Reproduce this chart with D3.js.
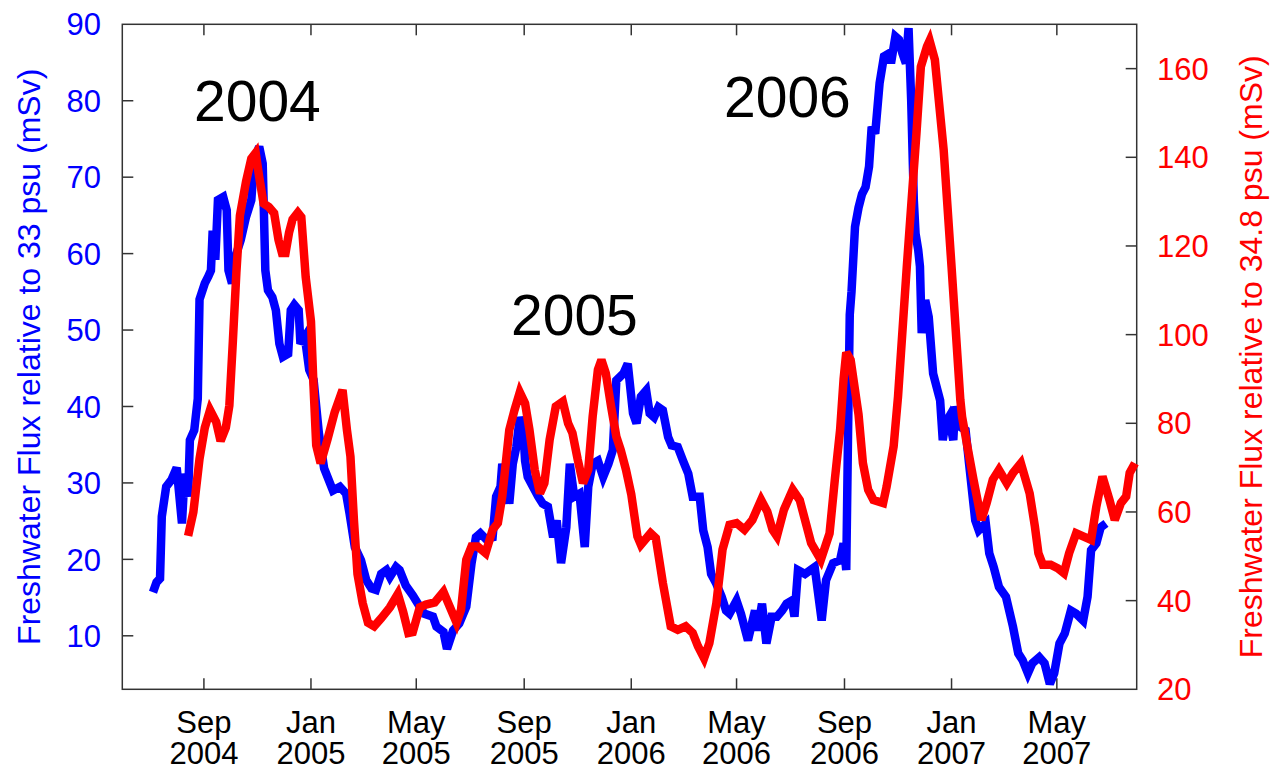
<html>
<head>
  <meta charset="utf-8">
  <script src="https://d3js.org/d3.v7.min.js"></script>
  <style>
    body { margin: 0; background: #fff; }
    text { font-family: "Liberation Sans", Arial, Helvetica, sans-serif; }
  </style>
</head>
<body>
<svg id="chart" width="1273" height="770"></svg>
<script>
// freshwater flux relative to 33 psu (left axis, blue)
var blueDates = ["2004-07-05","2004-07-09","2004-07-13","2004-07-15","2004-07-20","2004-07-26","2004-08-01","2004-08-07","2004-08-10","2004-08-14",
  "2004-08-16","2004-08-21","2004-08-25","2004-08-27","2004-09-02","2004-09-06","2004-09-09","2004-09-11","2004-09-14","2004-09-17",
  "2004-09-23","2004-09-27","2004-09-29","2004-10-03","2004-10-08","2004-10-13","2004-10-19","2004-10-25","2004-10-28","2004-11-03",
  "2004-11-07","2004-11-10","2004-11-13","2004-11-18","2004-11-22","2004-11-26","2004-11-30","2004-12-06","2004-12-09","2004-12-13",
  "2004-12-18","2004-12-20","2004-12-25","2004-12-30","2005-01-04","2005-01-10","2005-01-16","2005-01-26","2005-02-03","2005-02-10",
  "2005-02-14","2005-02-20","2005-02-27","2005-03-05","2005-03-11","2005-03-16","2005-03-22","2005-03-28","2005-04-01","2005-04-08",
  "2005-04-12","2005-04-19","2005-04-27","2005-05-05","2005-05-10","2005-05-20","2005-05-24","2005-06-01","2005-06-05","2005-06-12",
  "2005-06-19","2005-06-27","2005-07-03","2005-07-08","2005-07-13","2005-07-19","2005-07-27","2005-07-31","2005-08-05","2005-08-07",
  "2005-08-15","2005-08-19","2005-08-23","2005-08-27","2005-08-31","2005-09-02","2005-09-05","2005-09-11","2005-09-17","2005-09-22",
  "2005-09-28","2005-10-04","2005-10-08","2005-10-13","2005-10-19","2005-10-23","2005-10-28","2005-11-03","2005-11-09","2005-11-13",
  "2005-11-18","2005-11-24","2005-11-30","2005-12-06","2005-12-11","2005-12-15","2005-12-23","2005-12-28","2006-01-03","2006-01-07",
  "2006-01-12","2006-01-18","2006-01-22","2006-01-27","2006-02-01","2006-02-06","2006-02-12","2006-02-16","2006-02-23","2006-03-01",
  "2006-03-07","2006-03-12","2006-03-20","2006-03-24","2006-03-29","2006-04-02","2006-04-08","2006-04-14","2006-04-19","2006-04-23",
  "2006-05-01","2006-05-06","2006-05-14","2006-05-22","2006-05-25","2006-05-30","2006-06-04","2006-06-10","2006-06-16","2006-06-22",
  "2006-06-27","2006-07-03","2006-07-06","2006-07-10","2006-07-18","2006-07-29","2006-08-06","2006-08-11","2006-08-19","2006-08-27",
  "2006-08-31","2006-09-03","2006-09-05","2006-09-07","2006-09-09","2006-09-13","2006-09-17","2006-09-21","2006-09-25","2006-09-29",
  "2006-10-02","2006-10-06","2006-10-11","2006-10-16","2006-10-22","2006-10-24","2006-10-29","2006-11-02","2006-11-06","2006-11-10",
  "2006-11-13","2006-11-16","2006-11-19","2006-11-21","2006-11-24","2006-11-26","2006-11-28","2006-12-02","2006-12-06","2006-12-11",
  "2006-12-19","2006-12-22","2006-12-25","2006-12-29","2007-01-03","2007-01-05","2007-01-10","2007-01-17","2007-01-21","2007-01-28",
  "2007-02-01","2007-02-09","2007-02-13","2007-02-18","2007-02-24","2007-03-04","2007-03-12","2007-03-18","2007-03-23","2007-03-29",
  "2007-04-03","2007-04-11","2007-04-17","2007-04-23","2007-04-28","2007-05-04","2007-05-10","2007-05-17","2007-05-23","2007-05-31",
  "2007-06-05","2007-06-09","2007-06-15","2007-06-20","2007-06-26"];
var blueFlux = [15.7,17.0,17.5,25.6,29.5,30.4,32.0,24.7,31.2,28.2,
  35.6,36.9,41.0,54.0,56.1,57.0,57.8,63.0,59.2,67.0,
  67.4,65.7,57.8,56.1,60.0,61.8,64.8,67.0,71.8,74.0,
  71.8,57.8,55.2,54.3,52.6,48.2,46.5,46.9,52.6,53.3,
  52.6,48.2,49.1,44.8,43.5,36.5,31.9,29.0,29.5,28.6,
  26.0,21.6,19.9,17.3,16.2,16.0,18.1,18.6,17.7,19.0,
  18.6,16.6,15.3,13.8,12.9,12.5,11.2,10.5,8.3,10.7,
  11.6,13.8,19.5,22.9,23.4,22.7,22.9,28.2,29.5,32.5,
  27.3,32.5,34.7,38.6,36.9,32.9,30.8,29.5,28.2,27.3,
  26.9,22.9,25.1,19.5,24.2,32.5,28.2,28.6,21.6,29.5,
  32.5,32.9,30.8,32.5,34.3,43.4,44.3,45.6,39.1,37.8,
  41.3,42.1,39.1,38.6,39.9,39.5,36.0,34.9,34.7,32.9,
  31.2,28.2,28.2,23.8,21.6,18.1,16.8,15.1,13.3,12.9,
  14.6,12.9,9.4,13.3,10.7,14.2,9.0,12.5,12.5,13.3,
  14.2,14.6,12.5,18.6,18.1,19.0,12.0,17.3,19.5,19.9,
  22.1,18.6,36.0,52.0,55.0,63.5,66.0,67.8,68.7,71.4,
  76.6,75.7,82.3,85.8,86.2,84.9,88.4,88.0,86.2,84.9,
  89.5,80.1,67.0,62.6,60.5,58.3,49.6,53.9,51.7,44.3,
  40.8,35.6,37.8,38.6,35.6,40.0,37.4,36.9,32.5,25.1,
  23.8,24.7,20.8,19.0,16.4,15.1,11.2,7.7,6.8,5.1,
  6.4,7.2,6.4,3.7,5.1,9.0,10.3,13.3,12.9,12.0,
  15.1,21.2,22.1,24.2,24.7];

// freshwater flux relative to 34.8 psu (right axis, red)
var redDates = ["2004-08-14","2004-08-20","2004-08-27","2004-09-02","2004-09-08","2004-09-15","2004-09-20","2004-09-26","2004-09-30","2004-10-04",
  "2004-10-08","2004-10-12","2004-10-19","2004-10-25","2004-10-30","2004-11-03","2004-11-08","2004-11-14","2004-11-20","2004-11-25",
  "2004-11-29","2004-12-03","2004-12-07","2004-12-11","2004-12-17","2004-12-21","2004-12-26","2005-01-01","2005-01-04","2005-01-07",
  "2005-01-12","2005-01-20","2005-01-28","2005-02-06","2005-02-11","2005-02-15","2005-02-19","2005-02-23","2005-03-01","2005-03-07",
  "2005-03-14","2005-03-22","2005-04-01","2005-04-10","2005-04-16","2005-04-22","2005-04-27","2005-05-05","2005-05-12","2005-05-22",
  "2005-06-01","2005-06-08","2005-06-16","2005-06-21","2005-06-27","2005-07-03","2005-07-10","2005-07-19","2005-07-27","2005-08-02",
  "2005-08-07","2005-08-15","2005-08-21","2005-08-27","2005-09-02","2005-09-07","2005-09-13","2005-09-19","2005-09-24","2005-09-30",
  "2005-10-07","2005-10-15","2005-10-21","2005-10-26","2005-11-01","2005-11-07","2005-11-13","2005-11-18","2005-11-24","2005-11-28",
  "2005-12-03","2005-12-09","2005-12-15","2005-12-20","2005-12-26","2006-01-01","2006-01-08","2006-01-12","2006-01-23","2006-01-29",
  "2006-02-06","2006-02-15","2006-02-23","2006-03-04","2006-03-12","2006-03-18","2006-03-25","2006-03-31","2006-04-08","2006-04-15",
  "2006-04-23","2006-05-01","2006-05-10","2006-05-19","2006-05-29","2006-06-05","2006-06-11","2006-06-16","2006-06-24","2006-07-04",
  "2006-07-12","2006-07-25","2006-08-05","2006-08-15","2006-08-21","2006-08-27","2006-08-31","2006-09-03","2006-09-08","2006-09-17",
  "2006-09-22","2006-09-28","2006-10-04","2006-10-15","2006-10-19","2006-10-27","2006-11-01","2006-11-11","2006-11-22","2006-11-27",
  "2006-12-04","2006-12-07","2006-12-13","2006-12-23","2007-01-01","2007-01-11","2007-01-13","2007-01-19","2007-01-26","2007-02-04",
  "2007-02-10","2007-02-17","2007-02-24","2007-03-05","2007-03-12","2007-03-21","2007-03-31","2007-04-06","2007-04-10","2007-04-15",
  "2007-04-24","2007-05-02","2007-05-09","2007-05-15","2007-05-23","2007-05-31","2007-06-09","2007-06-15","2007-06-22","2007-06-30",
  "2007-07-06","2007-07-13","2007-07-19","2007-07-23","2007-07-29"];
var redFlux = [54.6,60.0,72.0,79.0,83.0,80.3,76.0,79.0,84.0,98.5,
  114.0,126.8,134.5,139.7,141.0,135.6,129.6,128.8,127.4,121.4,
  118.4,118.4,123.0,126.0,127.5,126.5,113.0,103.0,88.0,75.0,
  71.0,76.5,82.5,87.5,78.5,72.5,58.0,46.0,39.4,35.0,
  34.2,36.0,38.5,41.5,37.5,32.7,32.9,38.5,39.1,39.6,
  42.0,38.7,35.0,37.9,49.2,52.2,52.2,50.7,56.0,57.5,
  63.5,78.5,83.0,87.0,84.5,78.5,69.5,64.2,66.5,76.3,
  83.8,84.9,80.0,77.8,71.8,66.5,69.5,81.5,92.1,94.3,
  91.3,83.8,77.0,74.0,69.5,64.0,54.5,52.6,55.2,54.1,
  44.0,34.2,33.4,34.2,32.7,29.7,27.0,30.4,39.4,51.5,
  57.1,57.5,56.0,58.2,62.7,60.1,56.0,54.5,60.5,65.0,
  62.7,53.0,49.2,55.2,67.3,78.5,90.0,96.0,94.3,82.0,
  71.0,65.0,62.7,62.0,65.7,74.8,86.0,115.3,145.4,160.4,
  165.0,166.3,162.0,141.7,115.3,85.3,81.5,74.8,67.3,58.2,
  62.0,67.3,69.5,66.5,68.8,71.0,64.2,56.7,50.7,48.1,
  48.1,47.3,46.2,50.7,55.2,54.5,53.7,61.2,68.0,62.7,
  58.2,62.0,63.5,68.8,71.0];

var monthTicks = ["2004-09-01","2005-01-01","2005-05-01","2005-09-01","2006-01-01","2006-05-01","2006-09-01","2007-01-01","2007-05-01"];
var leftTicks = [10, 20, 30, 40, 50, 60, 70, 80, 90];
var rightTicks = [20, 40, 60, 80, 100, 120, 140, 160];
var yearNotes = ["2004", "2005", "2006"];

var parse = d3.timeParse("%Y-%m-%d");
var svg = d3.select("#chart");
var L = 122.3, R = 1136.7, T = 24.3, B = 689.3, tick = 11;

var x = d3.scaleTime().domain([parse("2004-05-31"), parse("2007-07-31")]).range([L, R]);
var yL = d3.scaleLinear().domain([3, 90]).range([B, T]);
var yR = d3.scaleLinear().domain([20, 170]).range([B, T]);

var blue = blueDates.map((d, i) => [parse(d), blueFlux[i]]);
var red = redDates.map((d, i) => [parse(d), redFlux[i]]);

// frame
svg.append("rect").attr("x", L).attr("y", T).attr("width", R - L).attr("height", B - T)
  .attr("fill", "none").attr("stroke", "#333").attr("stroke-width", 1.5);

var ticks = svg.append("g").attr("stroke", "#333").attr("stroke-width", 1.5);
monthTicks.forEach(function (s) {
  var tx = x(parse(s));
  ticks.append("line").attr("x1", tx).attr("x2", tx).attr("y1", B).attr("y2", B - tick);
  ticks.append("line").attr("x1", tx).attr("x2", tx).attr("y1", T).attr("y2", T + tick);
});
leftTicks.filter(v => v < 90).forEach(function (v) {
  ticks.append("line").attr("x1", L).attr("x2", L + tick).attr("y1", yL(v)).attr("y2", yL(v));
});
rightTicks.filter(v => v > 20).forEach(function (v) {
  ticks.append("line").attr("x1", R).attr("x2", R - tick).attr("y1", yR(v)).attr("y2", yR(v));
});

// tick labels: month over year, one text per tick
var fmtM = d3.timeFormat("%b"), fmtY = d3.timeFormat("%Y");
var xl = svg.append("g").attr("font-size", 31).attr("text-anchor", "middle").attr("fill", "#000");
monthTicks.forEach(function (s) {
  var d = parse(s);
  var t = xl.append("text").attr("x", x(d)).attr("y", 733);
  t.append("tspan").attr("x", x(d)).text(fmtM(d));
  t.append("tspan").attr("x", x(d)).attr("dy", 31).text(fmtY(d));
});
svg.append("g").attr("font-size", 31).attr("text-anchor", "end").attr("fill", "#0000ff")
  .selectAll("text").data(leftTicks).enter().append("text")
  .attr("x", 101).attr("y", d => yL(d)).attr("dy", "0.36em").text(d => d);
svg.append("g").attr("font-size", 31).attr("text-anchor", "start").attr("fill", "#ff0000")
  .selectAll("text").data(rightTicks).enter().append("text")
  .attr("x", 1157).attr("y", d => yR(d)).attr("dy", "0.36em").text(d => d);

// axis titles
var midY = (T + B) / 2;
svg.append("text").attr("transform", "translate(39.5," + midY + ") rotate(-90)")
  .attr("text-anchor", "middle").attr("font-size", 32).attr("fill", "#0000ff")
  .text("Freshwater Flux relative to 33 psu (mSv)");
svg.append("text").attr("transform", "translate(1262," + midY + ") rotate(-90)")
  .attr("text-anchor", "middle").attr("font-size", 32).attr("fill", "#ff0000")
  .text("Freshwater Flux relative to 34.8 psu (mSv)");

// series
var lineL = d3.line().x(d => x(d[0])).y(d => yL(d[1]));
var lineR = d3.line().x(d => x(d[0])).y(d => yR(d[1]));
svg.append("path").datum(blue).attr("d", lineL).attr("fill", "none")
  .attr("stroke", "#0000ff").attr("stroke-width", 8.5).attr("stroke-linejoin", "miter").attr("stroke-miterlimit", 3);
svg.append("path").datum(red).attr("d", lineR).attr("fill", "none")
  .attr("stroke", "#ff0000").attr("stroke-width", 8.5).attr("stroke-linejoin", "miter").attr("stroke-miterlimit", 3);

// year annotations
var notePos = { "2004": [194, 120.7], "2005": [511, 335], "2006": [724, 116.7] };
svg.append("g").attr("font-size", 57).attr("fill", "#000")
  .selectAll("text").data(yearNotes).enter().append("text")
  .attr("x", d => notePos[d][0]).attr("y", d => notePos[d][1]).text(d => d);
</script>
</body>
</html>
